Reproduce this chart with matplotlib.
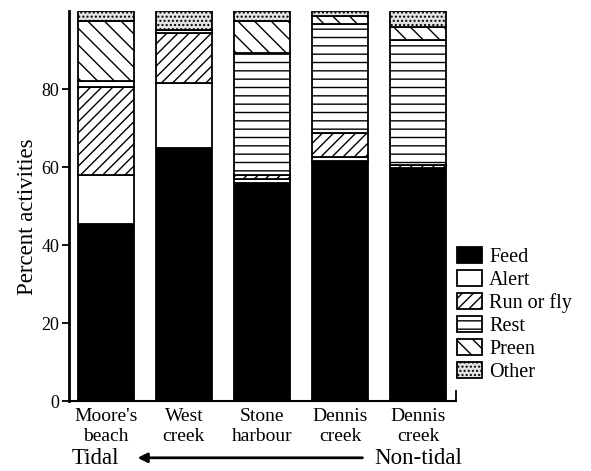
import numpy as np
import matplotlib
matplotlib.use("Agg")
import matplotlib.pyplot as plt

plt.rcParams['font.family'] = ['Liberation Serif', 'DejaVu Serif']
plt.rcParams['hatch.linewidth'] = 1.0

sites = ["Moore's\nbeach", "West\ncreek", "Stone\nharbour", "Dennis\ncreek", "Dennis\ncreek"]

# segment sizes (percent), bottom to top
feed = [45.5, 65.0, 56.0, 61.6, 59.8]
alert = [12.5, 16.5, 1.0, 1.0, 0.0]
run_fly = [22.5, 12.8, 1.0, 6.1, 0.7]
rest = [1.5, 0.8, 31.2, 28.0, 32.1]
preen = [15.5, 0.0, 8.3, 1.9, 3.4]
other = [2.5, 4.9, 2.5, 1.4, 4.0]

labels = ["Feed", "Alert", "Run or fly", "Rest", "Preen", "Other"]
faces = ["black", "white", "white", "white", "white", "#e4e4e4"]
hatches = [None, None, "///", "--", "\\\\", "...."]

fig = plt.figure(figsize=(5.91, 4.71), dpi=100)
ax = fig.add_axes([0.117, 0.1486, 0.655, 0.828])

x = np.arange(len(sites))
bottom = np.zeros(len(sites))
for vals, lab, fc, h in zip([feed, alert, run_fly, rest, preen, other], labels, faces, hatches):
    ax.bar(x, vals, width=0.72, bottom=bottom, color=fc, edgecolor="black",
           linewidth=1.3, hatch=h, label=lab)
    bottom += np.array(vals)

ax.set_xlim(-0.47, 4.49)
ax.set_ylim(0, 100)
ax.set_yticks([0, 20, 40, 60, 80])
ax.set_xticks(x)
ax.set_xticklabels(sites, fontsize=14, linespacing=1.2)
ax.tick_params(axis='x', length=0, pad=5)
ax.tick_params(axis='y', length=5, width=1.3, labelsize=13, direction='out', pad=2)
ax.spines['top'].set_visible(False)
ax.spines['right'].set_bounds(0, 2.5)
ax.spines['right'].set_linewidth(1.3)
ax.spines['left'].set_linewidth(2.0)
ax.spines['bottom'].set_linewidth(1.5)
ax.set_ylabel("Percent activities", fontsize=16.5)
ax.yaxis.set_label_coords(-0.08, 0.472)

leg = ax.legend(loc='lower left', bbox_to_anchor=(0.773, 0.189), bbox_transform=fig.transFigure,
                frameon=False, fontsize=14.5, handlelength=1.25, handleheight=0.85,
                handletextpad=0.35, labelspacing=0.15, borderaxespad=0, borderpad=0)

fig.text(0.122, 0.027, "Tidal", fontsize=16.5, ha='left', va='center')
fig.text(0.634, 0.027, "Non-tidal", fontsize=16.5, ha='left', va='center')
ax.annotate("", xy=(0.228, 0.028), xytext=(0.618, 0.028),
            xycoords='figure fraction',
            arrowprops=dict(arrowstyle='-|>', color='black', lw=2.0, mutation_scale=14))

fig.savefig("out.png", dpi=100)
